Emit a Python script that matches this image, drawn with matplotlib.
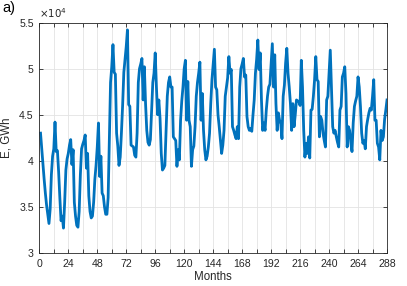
import matplotlib
matplotlib.use("Agg")
import matplotlib.pyplot as plt
from matplotlib.ticker import MultipleLocator, FuncFormatter, FixedLocator
import numpy as np

# Monthly energy, in units of 1e4 GWh (one row per year, 24 years)
energy_1e4 = [
    4.30, 4.13, 3.97, 3.80, 3.65, 3.52, 3.42, 3.32, 3.48, 3.85, 4.05, 4.13,
    4.42, 4.10, 4.11, 3.88, 3.60, 3.35, 3.40, 3.27, 3.55, 3.90, 4.02, 4.08,
    4.17, 4.23, 3.96, 4.12, 3.55, 3.40, 3.30, 3.28, 3.45, 3.85, 4.13, 4.18,
    4.22, 4.28, 3.92, 4.08, 3.62, 3.45, 3.38, 3.40, 3.55, 3.80, 3.95, 4.15,
    4.41, 3.83, 4.05, 3.65, 3.62, 3.50, 3.42, 3.42, 3.60, 4.20, 4.85, 5.02,
    5.26, 4.96, 4.94, 4.30, 4.16, 3.95, 4.04, 4.30, 4.60, 4.96, 5.10, 5.24,
    5.42, 4.61, 4.59, 4.17, 4.16, 4.15, 4.06, 4.04, 4.30, 4.85, 5.00, 5.05,
    5.11, 4.66, 5.02, 4.62, 4.33, 4.20, 4.17, 4.23, 4.55, 4.85, 4.95, 5.17,
    4.80, 4.50, 4.66, 4.46, 4.08, 3.90, 3.92, 3.95, 4.33, 4.70, 4.85, 4.91,
    4.80, 4.80, 4.26, 4.24, 4.22, 3.94, 4.12, 4.01, 4.44, 4.65, 4.80, 5.00,
    5.09, 4.44, 4.86, 4.44, 4.37, 3.94, 4.12, 4.16, 4.37, 4.70, 4.85, 4.95,
    5.07, 4.44, 4.73, 4.33, 4.12, 4.01, 4.05, 4.15, 4.30, 4.62, 4.88, 5.05,
    5.21, 4.80, 4.77, 4.50, 4.37, 4.22, 4.08, 4.17, 4.33, 4.70, 4.80, 4.90,
    5.13, 4.95, 4.99, 4.37, 4.33, 4.28, 4.24, 4.37, 4.24, 4.80, 5.00, 5.05,
    5.11, 4.91, 4.93, 4.48, 4.37, 4.33, 4.35, 4.32, 4.50, 4.66, 4.95, 5.10,
    5.31, 4.99, 5.17, 4.66, 4.33, 4.41, 4.33, 4.55, 4.70, 4.80, 4.83, 5.05,
    5.27, 4.80, 5.15, 4.62, 4.33, 4.52, 4.44, 4.40, 4.24, 4.70, 4.82, 5.06,
    5.22, 4.95, 4.80, 4.62, 4.33, 4.62, 4.37, 4.50, 4.66, 4.65, 4.64, 4.60,
    5.09, 4.80, 4.33, 4.04, 4.19, 4.08, 4.26, 4.03, 4.55, 4.56, 4.70, 4.88,
    5.13, 4.88, 4.86, 4.26, 4.48, 4.44, 4.30, 4.22, 4.15, 4.66, 4.70, 4.95,
    5.20, 4.80, 4.37, 4.30, 4.33, 4.26, 4.20, 4.15, 4.55, 4.59, 4.91, 4.95,
    5.02, 4.73, 4.15, 4.37, 4.33, 4.20, 4.10, 4.41, 4.59, 4.65, 4.70, 4.91,
    4.80, 4.59, 4.30, 4.19, 4.22, 4.13, 4.37, 4.45, 4.52, 4.57, 4.55, 4.70,
    4.88, 4.44, 4.44, 4.19, 4.15, 4.01, 4.33, 4.22, 4.26, 4.45, 4.55, 4.66,
]
months = np.arange(1, len(energy_1e4) + 1)
energy = np.array(energy_1e4) * 1e4

x_ticks = list(range(0, 289, 24))
y_ticks = [3.0e4, 3.5e4, 4.0e4, 4.5e4, 5.0e4, 5.5e4]

plt.rcParams['font.family'] = ['Liberation Sans', 'DejaVu Sans']

fig = plt.figure(figsize=(4.07, 2.86), dpi=100)
ax = fig.add_axes([0.0966, 0.1154, 0.9509 - 0.0966, 0.9213 - 0.1154])

ax.plot(months, energy, color='#0072BD', lw=2.0, solid_joinstyle='round')

ax.set_xlim(0, 288)
ax.set_ylim(3.0e4, 5.5e4)
ax.xaxis.set_major_locator(FixedLocator(x_ticks))
ax.xaxis.set_minor_locator(MultipleLocator(12))
ax.yaxis.set_major_locator(FixedLocator(y_ticks))
ax.yaxis.set_major_formatter(FuncFormatter(lambda v, p: f"{v/1e4:g}"))

ax.grid(True, which='both', color='#e3e3e3', lw=0.6)
ax.set_axisbelow(True)
for s in ax.spines.values():
    s.set_color('#262626')
    s.set_linewidth(0.6)
ax.tick_params(which='both', direction='in', top=True, right=True,
               color='#262626', width=0.6, labelsize=7.6, labelcolor='#262626', pad=4)
ax.tick_params(which='major', length=3)
ax.tick_params(which='minor', length=3)

ax.set_xlabel('Months', fontsize=8.3, color='#262626', labelpad=1.5)
ax.set_ylabel('E, GWh', fontsize=8.3, color='#262626', labelpad=5)

ax.text(0.0, 1.01, r'$\times10^{4}$', transform=ax.transAxes, fontsize=7.4,
        color='#262626', ha='left', va='bottom')
fig.text(0.005, 0.995, 'a)', fontsize=10.5, ha='left', va='top', color='black')

fig.savefig('out.png', dpi=100)
